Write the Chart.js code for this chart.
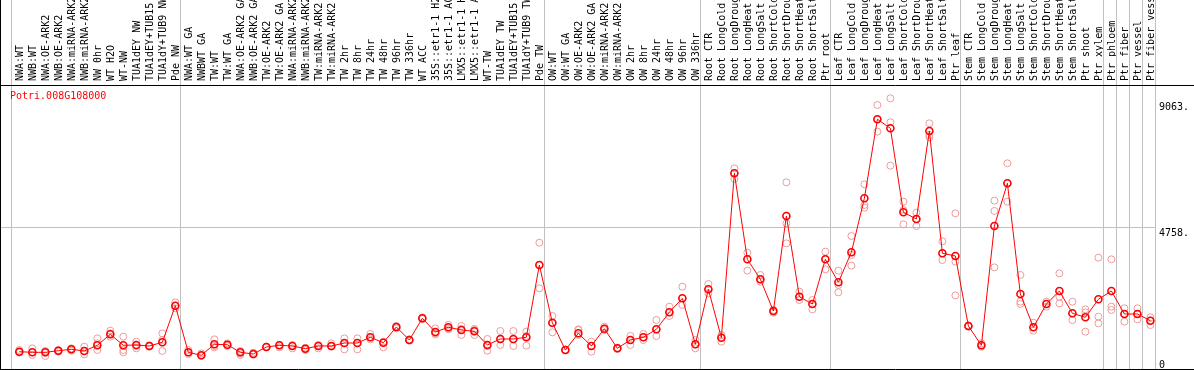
<!DOCTYPE html>
<html>
<head>
<meta charset="utf-8">
<script src="https://cdn.jsdelivr.net/npm/chart.js@4.4.0/dist/chart.umd.min.js"></script>
<style>
  html, body { margin: 0; padding: 0; background: #fff; }
  #wrap { width: 1194px; height: 370px; position: relative; }
</style>
</head>
<body>
<div id="wrap"><canvas id="chart"></canvas></div>
<script>
// nombre del gen mostrado en la esquina
const geneName = 'Potri.008G108000';

// muestras, en el orden del grafico
const samples = [
  'NWA:WT', 'NWB:WT', 'NWA:OE-ARK2', 'NWB:OE-ARK2', 'NWA:miRNA-ARK2', 'NWB:miRNA-ARK2', 'NW 0hr', 'WT H2O', 'WT-NW',
  'TUA1dEY NW', 'TUA1dEY+TUB15 NW', 'TUA1dY+TUB9 NW', 'Pde NW',
  'NWA:WT GA', 'NWBWT GA', 'TW:WT', 'TW:WT GA', 'NWA:OE-ARK2 GA', 'NWB:OE-ARK2 GA', 'TW:OE-ARK2', 'TW:OE-ARK2 GA',
  'NWA:miRNA-ARK2', 'NWB:miRNA-ARK2', 'TW:miRNA-ARK2', 'TW:miRNA-ARK2', 'TW 2hr', 'TW 8hr', 'TW 24hr', 'TW 48hr',
  'TW 96hr', 'TW 336hr', 'WT ACC', '35S::etr1-1 H2O', '35S::etr1-1 ACC', 'LMX5::etr1-1 H2O', 'LMX5::etr1-1 ACC',
  'WT-TW', 'TUA1dEY TW', 'TUA1dEY+TUB15 TW', 'TUA1dY+TUB9 TW', 'Pde TW',
  'OW:WT', 'OW:WT GA', 'OW:OE-ARK2', 'OW:OE-ARK2 GA', 'OW:miRNA-ARK2', 'OW:miRNA-ARK2', 'OW 2hr', 'OW 8hr',
  'OW 24hr', 'OW 48hr', 'OW 96hr', 'OW 336hr',
  'Root CTR', 'Root LongCold', 'Root LongDrought', 'Root LongHeat', 'Root LongSalt', 'Root ShortCold',
  'Root ShortDrought', 'Root ShortHeat', 'Root ShortSalt', 'Ptr root',
  'Leaf CTR', 'Leaf LongCold', 'Leaf LongDrought', 'Leaf LongHeat', 'Leaf LongSalt', 'Leaf ShortCold',
  'Leaf ShortDrought', 'Leaf ShortHeat', 'Leaf ShortSalt', 'Ptr leaf',
  'Stem CTR', 'Stem LongCold', 'Stem LongDrought', 'Stem LongHeat', 'Stem LongSalt', 'Stem ShortCold',
  'Stem ShortDrought', 'Stem ShortHeat', 'Stem ShortSalt', 'Ptr shoot', 'Ptr xylem',
  'Ptr phloem', 'Ptr fiber', 'Ptr vessel', 'Ptr fiber vessel'
];

// cantidad de muestras por bloque (lineas grises entre bloques)
const groupSizes = [13, 28, 12, 10, 10, 11, 1, 1, 1, 1];

// promedio de expresion por muestra
const means = [
  523, 502, 502, 557, 605, 547, 741, 1117, 741, 752, 718, 844, 2095,
  502, 400, 776, 762, 502, 444, 683, 741, 718, 625, 718, 718, 820, 820, 1015, 830, 1367, 923, 1664, 1196, 1357, 1264, 1220, 752, 957, 957, 1015, 3485,
  1514, 581, 1152, 718, 1309, 639, 923, 1015, 1288, 1869, 2347, 776,
  2655, 1001, 6619, 3680, 2997, 1914, 5160, 2402, 2153, 3680,
  2894, 3919, 5764, 8464, 8156, 5286, 5057, 8064, 3885, 3793,
  1401, 741, 4818, 6277, 2494, 1357, 2153, 2597, 1835, 1698, 2313,
  2597, 1811, 1811, 1582
];

// replicas (tres por muestra)
const rep1 = [
  581, 638, 547, 581, 638, 695, 979, 1242, 1037, 866, 740, 1150, 2210,
  581, 467, 945, 809, 547, 490, 695, 752, 752, 660, 752, 809, 979, 979, 1128, 866, 1401, 945, 1697, 1321, 1440, 1401, 1300, 957, 1230, 1230, 1207, 4247,
  1743, 592, 1287, 866, 1378, 660, 1059, 1128, 1606, 2062, 2745, 923,
  2836, 1093, 6788, 3907, 3144, 1948, 6310, 2574, 2289, 3941,
  3292, 4476, 6242, 8952, 9180, 5649, 5274, 8326, 4294, 5251,
  1420, 809, 5684, 6959, 3144, 1515, 2233, 3200, 2233, 1970, 3736,
  3679, 2005, 2005, 1697
];
const rep2 = [
  524, 501, 490, 547, 603, 547, 809, 1150, 581, 718, 718, 923, 2084,
  501, 400, 718, 741, 467, 444, 683, 741, 718, 625, 718, 718, 809, 809, 1015, 830, 1367, 923, 1664, 1150, 1340, 1300, 1264, 718, 945, 945, 1059, 3485,
  1492, 581, 1264, 718, 1309, 638, 923, 1015, 1288, 1869, 2347, 776,
  2655, 1001, 6619, 3680, 2997, 1914, 4909, 2402, 2153, 3680,
  2802, 3827, 5535, 8464, 8360, 5365, 5057, 7927, 3885, 3599,
  1401, 741, 5331, 6277, 2233, 1357, 2153, 2400, 1835, 1868, 1720,
  2062, 1811, 1811, 1582
];
const rep3 = [
  490, 410, 376, 524, 558, 433, 581, 1037, 501, 638, 700, 547, 2004,
  444, 376, 672, 718, 410, 421, 672, 672, 638, 581, 638, 695, 603, 603, 945, 672, 1321, 900, 1640, 1120, 1290, 1093, 1093, 558, 752, 718, 729, 2689,
  1185, 570, 1093, 524, 1264, 620, 752, 923, 1059, 1743, 2119, 638,
  2517, 866, 6424, 3292, 2916, 1857, 4225, 2289, 1970, 3337,
  2551, 3463, 5444, 8041, 6879, 4875, 4818, 7848, 3656, 2449,
  1378, 695, 3405, 5649, 2153, 1242, 2062, 2175, 1606, 1207, 1492,
  1948, 1549, 1629, 1435
];

// etiquetas del eje derecho
const yTickValues = [0, 4758, 9063];
const yTickLabels = ['0', '4758.', '9063.'];

const FONT = '"DejaVu Sans Mono", "Liberation Mono", monospace';
const edgeShift = -0.64; // las lineas grises quedan un poco antes de cada bloque

const toPoints = arr => arr.map((v, i) => ({ x: i, y: v }));

// lineas del marco, separadores y textos
const framePlugin = {
  id: 'frame',
  beforeDatasetsDraw(chart) {
    const { ctx, chartArea, scales: { x } } = chart;
    ctx.save();
    ctx.lineWidth = 1;
    ctx.strokeStyle = '#c0c0c0';
    let start = 0;
    const edges = [];
    groupSizes.forEach(n => { edges.push(start); start += n; });
    edges.push(start);
    edges.forEach(s => {
      const px = Math.round(x.getPixelForValue(s + edgeShift)) + 0.5;
      ctx.beginPath();
      ctx.moveTo(px, 0);
      ctx.lineTo(px, chartArea.bottom);
      ctx.stroke();
    });
    ctx.strokeStyle = '#000';
    ctx.beginPath();
    ctx.moveTo(0, chartArea.top + 0.5);
    ctx.lineTo(chart.width, chartArea.top + 0.5);
    ctx.moveTo(0, chartArea.bottom + 0.5);
    ctx.lineTo(chart.width, chartArea.bottom + 0.5);
    ctx.moveTo(chartArea.left + 0.5, 0);
    ctx.lineTo(chartArea.left + 0.5, chartArea.bottom + 1);
    ctx.stroke();
    ctx.restore();
  },
  afterDatasetsDraw(chart) {
    const { ctx, chartArea, scales: { y } } = chart;
    ctx.save();
    ctx.font = '10px ' + FONT;
    ctx.fillStyle = '#ff0000';
    ctx.textBaseline = 'middle';
    ctx.fillText(geneName, chartArea.left + 10, chartArea.top + 11);
    ctx.fillStyle = '#000';
    ctx.textBaseline = 'top';
    yTickValues.forEach((v, i) => {
      const py = Math.min(y.getPixelForValue(v) + 1, chartArea.bottom - 9);
      ctx.fillText(yTickLabels[i], chartArea.right + 3, py);
    });
    ctx.restore();
  }
};

const repStyle = {
  type: 'line',
  showLine: false,
  pointRadius: 3.5,
  pointBorderWidth: 1,
  pointBorderColor: '#ef9a9a',
  pointBackgroundColor: 'rgba(0,0,0,0)',
  order: 1
};

new Chart(document.getElementById('chart'), {
  type: 'line',
  data: {
    datasets: [
      {
        label: geneName,
        data: toPoints(means),
        borderColor: '#ff0000',
        borderWidth: 1,
        pointRadius: 3.5,
        pointBorderWidth: 1.6,
        pointBorderColor: '#ff0000',
        pointBackgroundColor: 'rgba(0,0,0,0)',
        tension: 0,
        order: 0
      },
      { ...repStyle, label: 'rep1', data: toPoints(rep1) },
      { ...repStyle, label: 'rep2', data: toPoints(rep2) },
      { ...repStyle, label: 'rep3', data: toPoints(rep3) }
    ]
  },
  options: {
    responsive: true,
    maintainAspectRatio: false,
    animation: false,
    layout: { autoPadding: false, padding: { left: 0, right: 38, top: 0, bottom: 1 } },
    plugins: { legend: { display: false }, tooltip: { enabled: false } },
    scales: {
      x: {
        type: 'linear',
        position: 'top',
        min: -1.485,
        max: 87.43,
        grid: { display: false, drawTicks: false },
        border: { display: false },
        afterBuildTicks: scale => { scale.ticks = samples.map((_, i) => ({ value: i })); },
        afterFit: scale => { scale.height = 85; },
        ticks: {
          autoSkip: false,
          minRotation: 90,
          maxRotation: 90,
          padding: 4,
          labelOffset: 13,
          color: '#000',
          font: { family: FONT, size: 10 },
          callback: v => samples[v]
        }
      },
      y: {
        type: 'linear',
        position: 'left',
        min: -68,
        max: 9635,
        grid: { color: '#c0c0c0', drawTicks: false },
        border: { display: false },
        afterBuildTicks: scale => { scale.ticks = [{ value: yTickValues[1] }]; },
        afterFit: scale => { scale.width = 0; },
        ticks: { display: false }
      }
    }
  },
  plugins: [framePlugin]
});
</script>
</body>
</html>
